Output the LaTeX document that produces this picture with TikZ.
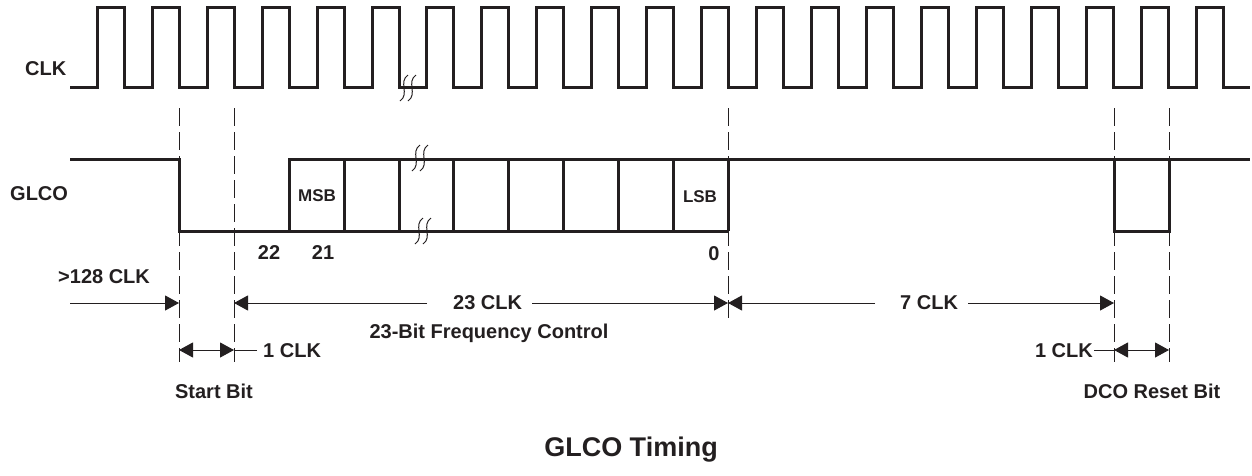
\documentclass[tikz,border=0pt]{standalone}
\usepackage{fontspec}
\setmainfont{Liberation Sans}
\usetikzlibrary{arrows.meta}
\definecolor{ink}{HTML}{231F20}
\begin{document}
\begin{tikzpicture}[x=1pt,y=-1pt,
  sig/.style={draw=ink,line width=3pt,line join=miter},
  guide/.style={draw=ink,line width=0.8pt,dash pattern=on 18pt off 6pt},
  dim/.style={draw=ink,line width=1pt},
  brkmark/.style={draw=ink,line width=1pt},
  >={Triangle[length=14pt,width=15pt]},
  lab/.style={text=ink,font=\fontsize{20}{24}\selectfont\bfseries,inner sep=0pt,anchor=base},
  small/.style={text=ink,font=\fontsize{17}{20}\selectfont\bfseries,inner sep=0pt,anchor=base},
  ttl/.style={text=ink,font=\fontsize{27}{32}\selectfont\bfseries,inner sep=0pt,anchor=base},
  brk/.pic={\draw[brkmark] (4,-13) .. controls (-6,-6) and (6,6) .. (-4,13);
            \draw[brkmark] (12,-13) .. controls (2,-6) and (14,6) .. (4,13);}
]
\useasboundingbox (0,0) rectangle (1252,475);

% ---------- CLK ----------
\draw[sig] (70,87)
  foreach \f in {124,179,234,289,344,399,453,508,563,618,673,728,783,838,893,948,1003,1058,1113,1168,1223}
  { -| (\f-27,7) -| (\f,87) } -- (1250,87);
\pic at (404,88) {brk};

% ---------- GLCO ----------
\draw[sig] (70,159) -| (179,231) -- (728,231);
\draw[sig] (289,231) |- (1250,159);
\foreach \x in {344,399,453,508,563,618,673,728}
  \draw[sig] (\x,159) -- (\x,231);
\draw[sig] (1114,159) rectangle (1169,231);
\pic at (416,158) {brk};
\pic at (419,231) {brk};

% ---------- guide lines ----------
\coordinate (g1t) at (179,108); \coordinate (g1b) at (179,362);
\coordinate (g2t) at (234,108); \coordinate (g2b) at (234,362);
\coordinate (g3t) at (728,108); \coordinate (g3b) at (728,318);
\coordinate (g4t) at (1114,108); \coordinate (g4b) at (1114,362);
\coordinate (g5t) at (1169,108); \coordinate (g5b) at (1169,362);
\foreach \i in {1,...,5} \draw[guide] (g\i t) -- (g\i b);

% ---------- signal labels ----------
\node[lab,anchor=base west] (clk) at (25,75) {CLK};
\node[lab,anchor=base west] (glco) at (10,200) {GLCO};
\node[small] (msb) at (317,201) {MSB};
\node[small] (lsb) at (700,202) {LSB};
\node[lab] (n22) at (269,259) {22};
\node[lab] (n21) at (323,259) {21};
\node[lab] (n0) at (714,260) {0};

% ---------- dimension arrows ----------
\node[lab,anchor=base west] (l128) at (58,283) {>128 CLK};
\coordinate (a0) at (70,303);
\coordinate (a1) at (179,303);
\draw[dim,->] (a0) -- (a1);

\coordinate (b0) at (234,303);
\coordinate (b1) at (728,303);
\coordinate (b2) at (1114,303);
\node[lab,anchor=base west] (l23) at (453,309) {23 CLK};
\draw[dim,->] ([xshift=-26pt]l23.west |- b0) -- (b0);
\draw[dim,->] ([xshift=10pt]l23.east |- b1) -- (b1);
\node[lab,anchor=base west] (l7) at (900,309) {7 CLK};
\draw[dim,->] ([xshift=-25pt]l7.west |- b1) -- (b1);
\draw[dim,->] ([xshift=10pt]l7.east |- b2) -- (b2);
\node[lab] (l23bit) at (489,338) {23-Bit Frequency Control};

\coordinate (c0) at (179,350);
\coordinate (c1) at (234,350);
\draw[dim,<->] (c0) -- (c1);
\node[lab,anchor=base west] (l1a) at (263,357) {1 CLK};
\draw[dim] ([xshift=-6pt]l1a.west |- c1) -- (c1);

\coordinate (d0) at (1114,350);
\coordinate (d1) at (1169,350);
\draw[dim,<->] (d0) -- (d1);
\node[lab,anchor=base east] (l1b) at (1093,357) {1 CLK};
\draw[dim] ([xshift=1pt]l1b.east |- d0) -- (d0);

\node[lab] (start) at (214,398) {Start Bit};
\node[lab] (dco) at (1152,398) {DCO Reset Bit};

\node[ttl] (title) at (631,456) {GLCO Timing};
\end{tikzpicture}
\end{document}
